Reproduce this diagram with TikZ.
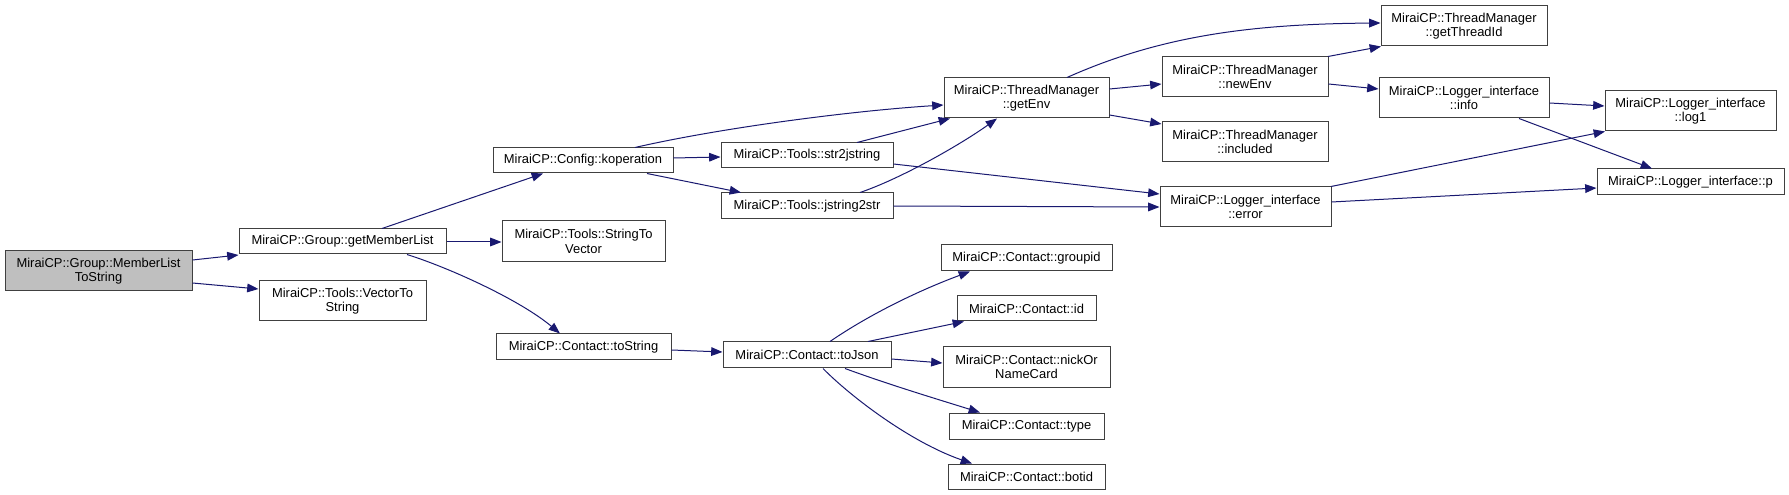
\documentclass[tikz,border=0pt]{standalone}
\usepackage{fontspec}
\setmainfont{Liberation Sans}
\usetikzlibrary{arrows.meta}
\definecolor{edgeblue}{HTML}{191970}
\definecolor{boxline}{HTML}{404040}
\definecolor{rootfill}{HTML}{BFBFBF}
\newcommand{\mybox}[6]{\node[box,minimum width=#4*0.75pt,minimum height=#5*0.75pt] (#1) at (#2,#3) {#6};}
\begin{document}
\begin{tikzpicture}[x=0.75pt,y=-0.75pt,
  box/.style={draw=boxline,line width=0.75pt,fill=white,inner sep=0pt,align=center,
    font=\fontsize{9.7}{11}\selectfont},
  edge/.style={draw=edgeblue,line width=0.75pt,-{Triangle[length=8.5pt,width=6.5pt]}}]
\useasboundingbox (0,0) rectangle (1789,495);
\fill[white] (0,0) rectangle (1789,495);
% nodes
\node[box,fill=rootfill,minimum width=187*0.75pt,minimum height=40*0.75pt] (mlts) at (98.5,271) {MiraiCP::Group::MemberList\\ToString};
\mybox{gml}{342.5}{241.5}{207}{25}{MiraiCP::Group::getMemberList}
\mybox{vts}{342.5}{301}{167}{40}{MiraiCP::Tools::VectorTo\\String}
\mybox{kop}{583}{160.5}{180}{25}{MiraiCP::Config::koperation}
\mybox{stv}{583.5}{241.5}{163}{41}{MiraiCP::Tools::StringTo\\Vector}
\mybox{tostr}{583.5}{347}{175}{26}{MiraiCP::Contact::toString}
\mybox{s2j}{807}{155.5}{172}{25}{MiraiCP::Tools::str2jstring}
\mybox{j2s}{807}{206}{172}{26}{MiraiCP::Tools::jstring2str}
\mybox{tojson}{807}{355}{168}{26}{MiraiCP::Contact::toJson}
\mybox{getenv}{1026.5}{98}{165}{40}{MiraiCP::ThreadManager\\::getEnv}
\mybox{groupid}{1026.5}{258}{171}{26}{MiraiCP::Contact::groupid}
\mybox{cid}{1026.5}{308.5}{139}{25}{MiraiCP::Contact::id}
\mybox{nick}{1026.5}{367}{167}{40}{MiraiCP::Contact::nickOr\\NameCard}
\mybox{ctype}{1026.5}{426}{155}{26}{MiraiCP::Contact::type}
\mybox{botid}{1026.5}{476.5}{157}{25}{MiraiCP::Contact::botid}
\mybox{newenv}{1245}{77}{166}{40}{MiraiCP::ThreadManager\\::newEnv}
\mybox{included}{1245}{142}{166}{40}{MiraiCP::ThreadManager\\::included}
\mybox{error}{1245.5}{207}{171}{40}{MiraiCP::Logger\_interface\\::error}
\mybox{gtid}{1464}{26}{166}{40}{MiraiCP::ThreadManager\\::getThreadId}
\mybox{info}{1464}{98}{170}{40}{MiraiCP::Logger\_interface\\::info}
\mybox{logone}{1690.5}{111}{171}{40}{MiraiCP::Logger\_interface\\::log1}
\mybox{lp}{1690.5}{182}{187}{26}{MiraiCP::Logger\_interface::p}
% edges
\draw[edge] (mlts.east |- 0,260) -- (gml.west |- 0,255);
\draw[edge] (mlts.east |- 0,283) -- (vts.west |- 0,289);
\draw[edge] (gml.north -| 382,0) -- (kop.south -| 543,0);
\draw[edge] (gml.east |- 0,242) -- (stv.west |- 0,242);
\draw[edge] (gml.south -| 407,0) .. controls (450,268) and (520,300) .. (tostr.north -| 560,0);
\draw[edge] (kop.north -| 635,0) .. controls (720,128) and (850,111) .. (getenv.west |- 0,105);
\draw[edge] (kop.east |- 0,158) -- (s2j.west |- 0,157);
\draw[edge] (kop.south -| 647,0) -- (j2s.north -| 741,0);
\draw[edge] (s2j.north -| 857,0) -- (getenv.south -| 950,0);
\draw[edge] (j2s.north -| 860,0) .. controls (900,179) and (960,145) .. (getenv.south -| 997,0);
\draw[edge] (s2j.east |- 0,164) -- (error.west |- 0,194);
\draw[edge] (j2s.east |- 0,206) -- (error.west |- 0,207);
\draw[edge] (getenv.north -| 1067,0) .. controls (1160,36) and (1250,24) .. (gtid.west |- 0,23);
\draw[edge] (getenv.east |- 0,89) -- (newenv.west |- 0,84);
\draw[edge] (getenv.east |- 0,115) -- (included.west |- 0,124);
\draw[edge] (newenv.north -| 1328,0) -- (gtid.south -| 1381,0);
\draw[edge] (newenv.east |- 0,84) -- (info.west |- 0,89);
\draw[edge] (info.east |- 0,103) -- (logone.west |- 0,106);
\draw[edge] (info.south -| 1519,0) -- (lp.north -| 1652,0);
\draw[edge] (error.north -| 1331,0) -- (logone.south -| 1605,0);
\draw[edge] (error.east |- 0,202) -- (lp.west |- 0,188);
\draw[edge] (tostr.east |- 0,350) -- (tojson.west |- 0,352);
\draw[edge] (tojson.north -| 830,0) .. controls (870,314) and (920,290) .. (groupid.south -| 970,0);
\draw[edge] (tojson.north -| 868,0) -- (cid.south -| 964,0);
\draw[edge] (tojson.east |- 0,359) -- (nick.west |- 0,363);
\draw[edge] (tojson.south -| 845,0) .. controls (890,385) and (940,400) .. (ctype.north -| 980,0);
\draw[edge] (tojson.south -| 823,0) .. controls (850,396) and (910,442) .. (botid.north -| 972,0);
\end{tikzpicture}
\end{document}
